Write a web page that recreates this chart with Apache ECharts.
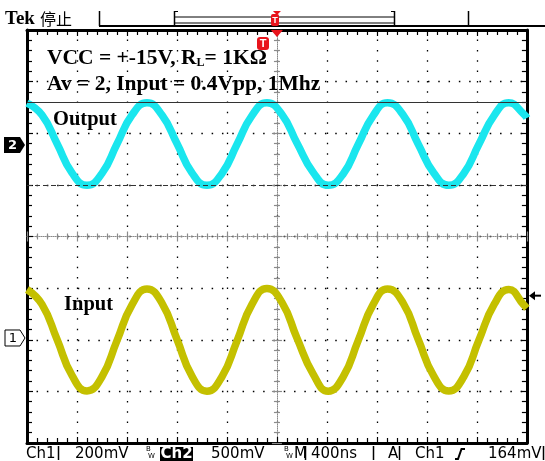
<!DOCTYPE html>
<html>
<head>
<meta charset="utf-8">
<title>Tek 停止</title>
<script src="https://cdn.jsdelivr.net/npm/echarts@6/dist/echarts.min.js"></script>
<style>
  html,body{margin:0;padding:0;background:#fff;}
  #scope{width:545px;height:461px;}
</style>
</head>
<body>
<div id="scope"></div>
<script>
// 时基 400ns/div, 屏幕共10格 (-2000 ~ 2000 ns)
const timeNs = [-2000,-1880,-1760,-1640,-1520,-1400,-1280,-1160,-1040,-920,-800,-680,-560,-440,-320,-200,-80,
  40,160,290,410,530,650,770,885,1010,1130,1255,1375,1495,1615,1740,1855,1975,2000];
// Ch2 输出 (mV, 相对于通道地线)
const ch2mV = [405,290,15,-270,-390,-275,10,290,410,290,15,-270,-390,-275,5,285,410,
  295,20,-265,-390,-280,5,285,410,290,10,-270,-390,-275,5,290,410,300,262];
// Ch1 输入 (mV, 相对于通道地线)
const ch1mV = [188,130,-5,-145,-205,-150,-10,128,190,135,-5,-148,-206,-150,-12,130,192,
  138,0,-140,-206,-150,-10,130,190,135,-5,-148,-205,-150,-10,132,188,128,115];

const ch1Scale = 200, ch2Scale = 500;      // mV/div
const ch1Ground = -1.966, ch2Ground = 1.772; // 地线位置 (div)
const triggerMv = 164;
const cursorDiv = [2.61, 1.0];               // 两条光标 (div)

const noteLine1 = ['VCC = +-15V, R', 'L', '= 1KΩ'];
const noteLine2 = 'Av = 2, Input = 0.4Vpp, 1Mhz';
const traceNames = ['Output', 'Input'];
const statusLabels = ['Ch1', '200mV', '500mV', 'M', '400ns', 'A', 'Ch1', '164mV'];

const CYAN = '#1ae6ee', YEL = '#c4c000', RED = '#e8141c', GRID_GREY = '#8a8a8a';
const toPairs = (vals, scale, ground)=>timeNs.map((t,i)=>[t, ground + vals[i]/scale]);

// 标签透明: 刻度方向依赖标签方向
const hiddenLabel = {show:true, color:'rgba(0,0,0,0)', fontSize:8};

// 外框: 每边一条轴, 刻度朝内
function frameAxis(dim, position, dotted){
  const isX = dim === 'x';
  return {
    type:'value', position:position,
    min:isX ? -2000 : -4, max:isX ? 2000 : 4, interval:isX ? 400 : 1,
    axisLabel:hiddenLabel,
    axisLine:{show:true, onZero:false, lineStyle:{color:'#000', width:3}},
    axisTick:{show:true, inside:true, length:6, lineStyle:{color:'#000', width:1.2}},
    minorTick:{show:true, splitNumber:5, length:5, lineStyle:{color:'#000', width:1.2}},
    splitLine:{show:dotted, lineStyle:{color:'#000', width:1.3, type:[1.5, isX ? 8.825 : 8.8], dashOffset:0.75}}
  };
}
// 中心十字线, 刻度两侧各一条轴
function centerAxis(dim, position, inside, showLine){
  const isX = dim === 'x';
  return {
    type:'value', position:position,
    min:isX ? -2000 : -4, max:isX ? 2000 : 4, interval:isX ? 400 : 1,
    axisLabel:hiddenLabel, splitLine:{show:false},
    axisLine:{show:showLine, onZero:true, onZeroAxisIndex:0, lineStyle:{color:GRID_GREY, width:1, type:[1,1]}},
    axisTick:{show:true, inside:inside, length:5, lineStyle:{color:GRID_GREY, width:1.2}},
    minorTick:{show:true, splitNumber:5, length:3, lineStyle:{color:GRID_GREY, width:1.2}}
  };
}

const chart = echarts.init(document.getElementById('scope'), null, {renderer:'canvas'});
chart.setOption({
  animation:false,
  backgroundColor:'#fff',
  grid:{left:27, right:3, top:30, bottom:18, show:false},
  xAxis:[frameAxis('x','bottom',true), frameAxis('x','top',false),
    centerAxis('x','bottom',true,true), centerAxis('x','bottom',false,false)],
  yAxis:[frameAxis('y','left',true), frameAxis('y','right',false),
    centerAxis('y','left',true,true), centerAxis('y','left',false,false)],
  series:[
    {
      type:'line', name:'Ch2', xAxisIndex:0, yAxisIndex:0, z:3,
      data:toPairs(ch2mV, ch2Scale, ch2Ground),
      smooth:true, showSymbol:false,
      lineStyle:{color:CYAN, width:7.5},
      markLine:{
        silent:true, symbol:['none','none'], label:{show:false}, animation:false,
        data:[
          {yAxis:cursorDiv[0], lineStyle:{type:'solid', color:'#333', width:1}},
          {yAxis:cursorDiv[1], lineStyle:{type:[5,3], color:'#333', width:1.2}}
        ]
      }
    },
    {
      type:'line', name:'Ch1', xAxisIndex:1, yAxisIndex:1, z:3,
      data:toPairs(ch1mV, ch1Scale, ch1Ground),
      smooth:true, showSymbol:false,
      lineStyle:{color:YEL, width:7.5}
    }
  ]
});

// 屏幕上的标记 (通道地线, 触发电平等)
const yCh2 = chart.convertToPixel({yAxisIndex:0}, ch2Ground);
const yCh1 = chart.convertToPixel({yAxisIndex:0}, ch1Ground);
const yTrig = chart.convertToPixel({yAxisIndex:0}, ch1Ground + triggerMv/ch1Scale);
const x0 = chart.convertToPixel({xAxisIndex:0}, 0);

const serif = '"Liberation Serif","Times New Roman",serif';
const sans = '"DejaVu Sans",sans-serif';
const g = [];
const txt = (text, x, y, font, fill, align)=>g.push({type:'text', x, y, z:30,
  style:{text, font, fill:fill||'#000', align:align||'left', verticalAlign:'middle'}});
const line = (x1,y1,x2,y2,w,c)=>g.push({type:'line', z:20, shape:{x1,y1,x2,y2}, style:{stroke:c||'#000', lineWidth:w||1}});

// 顶栏
txt('Tek', 5, 19, 'bold 19px '+serif);
txt('停止', 40, 19, '16px "Noto Sans CJK SC",sans-serif');
line(99, 26, 545, 26, 2);
line(99.5, 11, 99.5, 26, 1.5);
line(468.5, 11, 468.5, 26, 1.5);
line(174.5, 11, 174.5, 26, 1.5);
line(394.5, 11, 394.5, 26, 1.5);
line(174, 11.5, 178, 11.5, 1);
line(391, 11.5, 395, 11.5, 1);
line(174, 17, 395, 17, 1);
line(174, 23, 395, 23, 1);
g.push({type:'polygon', z:21, shape:{points:[[x0-4,11],[x0+4,11],[x0,15]]}, style:{fill:RED}});
g.push({type:'rect', z:21, shape:{x:271, y:14, width:8, height:12, r:2}, style:{fill:RED}});
txt('T', 275, 20.5, 'bold 9px "Liberation Sans",sans-serif', '#fff', 'center');
g.push({type:'polygon', z:21, shape:{points:[[x0-6,30],[x0+6,30],[x0,37]]}, style:{fill:RED}});

// 注释文字
g.push({type:'text', x:47, y:58.5, z:30, style:{
  text:'{a|'+noteLine1[0]+'}{s|'+noteLine1[1]+'}{a|'+noteLine1[2]+'}',
  verticalAlign:'middle',
  rich:{
    a:{fontFamily:serif, fontWeight:'bold', fontSize:21.5, fill:'#000', lineHeight:21},
    s:{fontFamily:serif, fontWeight:'bold', fontSize:12, fill:'#000', verticalAlign:'bottom', lineHeight:21}
  }
}});
txt(noteLine2, 47, 84.5, 'bold 21.5px '+serif);
g.push({type:'rect', z:21, shape:{x:257, y:37, width:12, height:13, r:3}, style:{fill:RED}});
txt('T', 263, 43.5, 'bold 11px "Liberation Sans",sans-serif', '#fff', 'center');
txt(traceNames[0], 53, 119.5, 'bold 20.5px '+serif);
txt(traceNames[1], 64, 305, 'bold 20.5px '+serif);

// 通道标记
g.push({type:'polygon', z:21, shape:{points:[[4,yCh2-8],[20,yCh2-8],[25,yCh2],[20,yCh2+8],[4,yCh2+8]]}, style:{fill:'#000'}});
txt('2', 12.5, yCh2+0.5, 'bold 13px '+sans, '#fff', 'center');
g.push({type:'polygon', z:21, shape:{points:[[5,yCh1-8],[20,yCh1-8],[25,yCh1],[20,yCh1+8],[5,yCh1+8]]}, style:{fill:'#fff', stroke:'#000', lineWidth:1}});
txt('1', 13, yCh1+0.5, '13px '+sans, '#000', 'center');

// 触发电平箭头
g.push({type:'polygon', z:21, shape:{points:[[529,yTrig],[535,yTrig-4.5],[535,yTrig+4.5]]}, style:{fill:'#000'}});
line(534, yTrig, 541, yTrig, 2);

// 底部状态栏
const statusX = [26, 75, 211, 294, 311, 388, 415, 488];
statusLabels.forEach((s,i)=>txt(s, statusX[i], 454, '15px '+sans));
g.push({type:'rect', z:20, shape:{x:160, y:447, width:33, height:14}, style:{fill:'#000'}});
txt('Ch2', 176.5, 454, 'bold 15px '+sans, '#fff', 'center');
[146, 284].forEach(x=>{
  txt('B', x, 449.5, '7px '+sans);
  txt('W', x+2, 456, '7px '+sans);
});
[58, 305, 373, 399, 543].forEach(x=>line(x+0.5, 446, x+0.5, 460, 1.5));
g.push({type:'polyline', z:20, shape:{points:[[455,459],[458,459],[461.5,449],[465,449]]}, style:{stroke:'#000', lineWidth:2, fill:null}});

chart.setOption({graphic:g});
</script>
</body>
</html>
